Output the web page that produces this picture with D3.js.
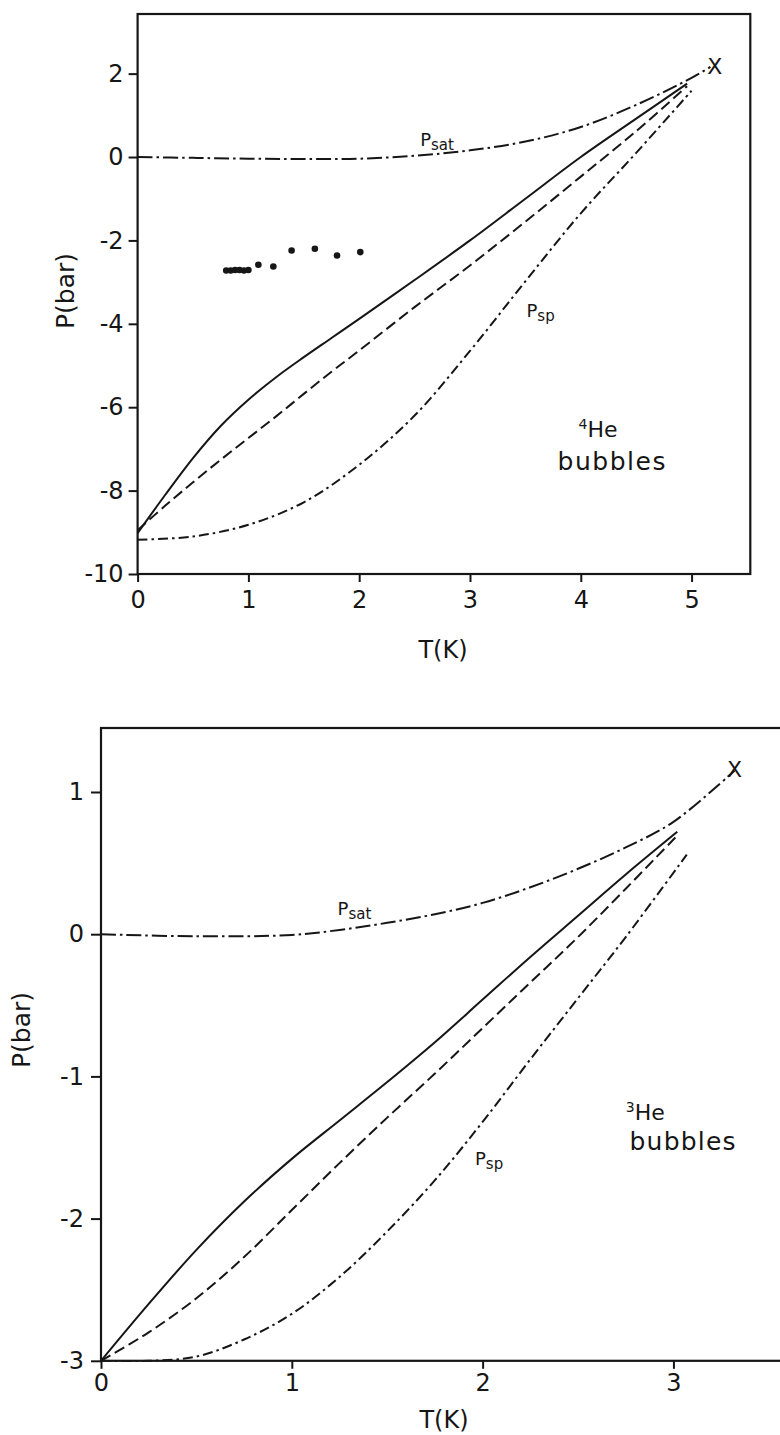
<!DOCTYPE html>
<html>
<head>
<meta charset="utf-8">
<script src="https://cdn.jsdelivr.net/npm/d3@7/dist/d3.min.js"></script>
<style>
  body { margin: 0; background: #fff; }
  svg text { font-family: "DejaVu Sans", sans-serif; fill: #161616; }
  .frame { fill: none; stroke: #161616; stroke-width: 2.2; }
  .curve { fill: none; stroke: #161616; stroke-width: 2; }
  .tick line { stroke: #161616; stroke-width: 2; }
</style>
</head>
<body>
<svg id="chart" width="780" height="1435"></svg>
<script>
// ---- 4He bubbles (upper panel) ----
const he4SatT = [0, 0.5, 1.0, 1.5, 2.0, 2.5, 3.0, 3.5, 4.0, 4.5, 5.0, 5.17];
const he4SatP = [0, -0.02, -0.04, -0.05, -0.04, 0.03, 0.16, 0.37, 0.72, 1.25, 1.9, 2.16];
const he4SolidT = [0, 0.25, 0.5, 0.75, 1.0, 1.25, 1.5, 1.75, 2.0, 2.5, 3.0, 3.5, 4.0, 4.5, 4.96];
const he4SolidP = [-9.02, -8.1, -7.22, -6.45, -5.82, -5.28, -4.8, -4.34, -3.88, -2.95, -2.0, -1.0, 0.0, 0.92, 1.76];
const he4DashT = [0, 0.25, 0.5, 0.75, 1.0, 1.25, 1.5, 1.75, 2.0, 2.5, 3.0, 3.5, 4.0, 4.5, 4.96];
const he4DashP = [-8.95, -8.36, -7.8, -7.26, -6.74, -6.22, -5.68, -5.15, -4.64, -3.6, -2.6, -1.55, -0.47, 0.62, 1.7];
const he4SpT = [0, 0.5, 1.0, 1.5, 2.0, 2.5, 3.0, 3.5, 4.0, 4.5, 5.0];
const he4SpP = [-9.18, -9.1, -8.82, -8.28, -7.38, -6.2, -4.65, -2.98, -1.35, 0.1, 1.59];
// measured points
const he4DotsT = [0.80, 0.84, 0.88, 0.92, 0.96, 1.0, 1.09, 1.225, 1.39, 1.60, 1.80, 2.01];
const he4DotsP = [-2.72, -2.72, -2.71, -2.71, -2.72, -2.71, -2.585, -2.625, -2.24, -2.20, -2.36, -2.28];
const he4TTicks = [0, 1, 2, 3, 4, 5];
const he4PTicks = [2, 0, -2, -4, -6, -8, -10];
const he4Crit = [5.21, 2.17];

// ---- 3He bubbles (lower panel) ----
const he3SatT = [0, 0.5, 1.0, 1.25, 1.5, 1.75, 2.0, 2.25, 2.5, 2.75, 3.0, 3.32];
const he3SatP = [0, -0.015, -0.005, 0.03, 0.08, 0.14, 0.22, 0.33, 0.46, 0.61, 0.79, 1.15];
const he3SolidT = [0, 0.25, 0.5, 0.75, 1.0, 1.25, 1.5, 1.75, 2.0, 2.25, 2.5, 2.75, 3.02];
const he3SolidP = [-3.0, -2.6, -2.22, -1.88, -1.58, -1.31, -1.04, -0.76, -0.46, -0.16, 0.13, 0.42, 0.72];
const he3DashT = [0, 0.25, 0.5, 0.75, 1.0, 1.25, 1.5, 1.75, 2.0, 2.25, 2.5, 2.75, 3.01];
const he3DashP = [-3.0, -2.8, -2.56, -2.27, -1.94, -1.61, -1.29, -0.98, -0.66, -0.34, -0.02, 0.32, 0.68];
const he3SpT = [0, 0.25, 0.5, 0.75, 1.0, 1.25, 1.5, 1.75, 2.0, 2.25, 2.5, 2.75, 3.07];
const he3SpP = [-3.0, -3.0, -2.97, -2.85, -2.67, -2.41, -2.09, -1.73, -1.32, -0.88, -0.45, -0.02, 0.56];
const he3TTicks = [0, 1, 2, 3];
const he3PTicks = [1, 0, -1, -2, -3];
const he3Crit = [3.32, 1.16];

const svg = d3.select("#chart");
const zip = (a, b) => a.map((t, i) => [t, b[i]]);

function panel(cfg) {
  const x = d3.scaleLinear().domain(cfg.tDomain).range(cfg.xRange);
  const y = d3.scaleLinear().domain(cfg.pDomain).range(cfg.yRange);
  const g = svg.append("g");

  // frame
  g.append("rect").attr("class", "frame")
    .attr("x", x.range()[0]).attr("y", y.range()[1])
    .attr("width", x.range()[1] - x.range()[0])
    .attr("height", y.range()[0] - y.range()[1]);

  const yAxis = g.append("g")
    .attr("transform", "translate(" + x.range()[0] + ",0)")
    .call(d3.axisLeft(y).tickValues(cfg.pTicks).tickFormat(d => String(d))
      .tickSize(cfg.tickLen).tickPadding(cfg.yPad));
  const xAxis = g.append("g")
    .attr("transform", "translate(0," + y.range()[0] + ")")
    .call(d3.axisBottom(x).tickValues(cfg.tTicks).tickFormat(d => String(d))
      .tickSize(8).tickPadding(cfg.xPad));
  [xAxis, yAxis].forEach(a => {
    a.select(".domain").remove();
    a.selectAll("text").style("font-size", "24px").style("font-family", null);
  });

  const line = d3.line().x(d => x(d[0])).y(d => y(d[1])).curve(d3.curveCatmullRom.alpha(0.5));
  const curves = [
    { t: cfg.satT, p: cfg.satP, dash: "15,4,2.5,4" },
    { t: cfg.solidT, p: cfg.solidP, dash: null },
    { t: cfg.dashT, p: cfg.dashP, dash: "11,5" },
    { t: cfg.spT, p: cfg.spP, dash: "10,4,2.5,4" }
  ];
  g.selectAll("path.curve").data(curves).enter().append("path")
    .attr("class", "curve")
    .attr("stroke-dasharray", d => d.dash)
    .attr("d", d => line(zip(d.t, d.p)));

  if (cfg.dotsT) {
    g.selectAll("circle.dot").data(zip(cfg.dotsT, cfg.dotsP)).enter().append("circle")
      .attr("class", "dot")
      .attr("cx", d => x(d[0])).attr("cy", d => y(d[1])).attr("r", 3.3)
      .attr("fill", "#161616");
  }

  // critical point marker
  g.append("text").attr("x", x(cfg.crit[0])).attr("y", y(cfg.crit[1]))
    .attr("text-anchor", "middle").attr("dy", "0.36em")
    .style("font-size", "22px").text("X");

  // curve labels
  const sub = (pos, name, size) => {
    const t = g.append("text").attr("x", x(pos[0])).attr("y", y(pos[1]))
      .style("font-size", size + "px");
    t.append("tspan").text("P");
    t.append("tspan").attr("dy", 4).style("font-size", (size - 3) + "px").text(name);
  };
  sub(cfg.satLabel, "sat", 18);
  sub(cfg.spLabel, "sp", 18);

  const iso = g.append("text").attr("x", x(cfg.isoLabel[0])).attr("y", y(cfg.isoLabel[1]))
    .style("font-size", "22px");
  iso.append("tspan").attr("dy", -8).style("font-size", "14px").text(cfg.isotope);
  iso.append("tspan").attr("dy", 8).text("He");
  g.append("text").attr("x", x(cfg.bubLabel[0])).attr("y", y(cfg.bubLabel[1]))
    .attr("textLength", cfg.bubWidth).attr("lengthAdjust", "spacing")
    .style("font-size", "25px").text("bubbles");

  // axis titles
  g.append("text").attr("x", cfg.tTitle[0]).attr("y", cfg.tTitle[1])
    .attr("text-anchor", "middle").style("font-size", "24px").text("T(K)");
  g.append("text")
    .attr("transform", "translate(" + cfg.pTitle[0] + "," + cfg.pTitle[1] + ") rotate(-90)")
    .attr("text-anchor", "middle").style("font-size", "25px").text("P(bar)");
}

panel({
  tDomain: [0, 5.53], xRange: [137.6, 750.3],
  pDomain: [-10, 3.43], yRange: [574, 14],
  tTicks: he4TTicks, pTicks: he4PTicks, tickLen: 9, yPad: 5, xPad: 9,
  satT: he4SatT, satP: he4SatP, solidT: he4SolidT, solidP: he4SolidP,
  dashT: he4DashT, dashP: he4DashP, spT: he4SpT, spP: he4SpP,
  dotsT: he4DotsT, dotsP: he4DotsP, crit: he4Crit,
  satLabel: [2.55, 0.27], spLabel: [3.51, -3.83],
  isotope: "4", isoLabel: [3.98, -6.72], bubLabel: [3.79, -7.5], bubWidth: 108,
  tTitle: [443, 658], pTitle: [74, 291]
});

panel({
  tDomain: [0, 3.7], xRange: [101, 807],
  pDomain: [-3, 1.45], yRange: [1360.8, 728],
  tTicks: he3TTicks, pTicks: he3PTicks, tickLen: 10, yPad: 7, xPad: 5,
  satT: he3SatT, satP: he3SatP, solidT: he3SolidT, solidP: he3SolidP,
  dashT: he3DashT, dashP: he3DashP, spT: he3SpT, spP: he3SpP,
  crit: he3Crit,
  satLabel: [1.24, 0.137], spLabel: [1.96, -1.62],
  isotope: "3", isoLabel: [2.75, -1.31], bubLabel: [2.77, -1.52], bubWidth: 106,
  tTitle: [444, 1428], pTitle: [30, 1030]
});
</script>
</body>
</html>
